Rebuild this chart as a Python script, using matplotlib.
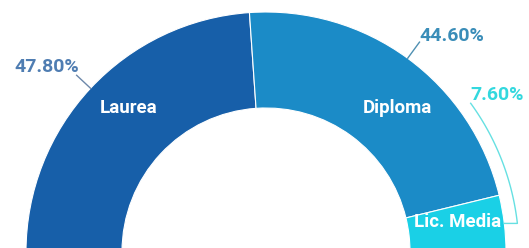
import numpy as np
import matplotlib
matplotlib.use("Agg")
import matplotlib.pyplot as plt

# ---- data ----
categories = ["Laurea", "Diploma", "Lic. Media"]
values = [47.80, 44.60, 7.60]
pct_labels = ["47.80%", "44.60%", "7.60%"]

# ---- style ----
colors = ["#175fa9", "#1b8bc7", "#1ad0e6"]
pct_colors = ["#4f7db2", "#3a8db8", "#33d8de"]
line_colors = ["#6d88aa", "#4f90b2", "#66e0e2"]

W, H = 529, 248
fig = plt.figure(figsize=(W / 100, H / 100), dpi=100)
ax = fig.add_axes([0, 0, 1, 1])

cx, cy = 266, H - 252
R, ring = 240, 96
frac = [v / 200.0 for v in values]
wedges, _ = ax.pie(frac, normalize=False, startangle=180, counterclock=False,
                   colors=colors, radius=R, center=(cx, cy),
                   wedgeprops=dict(width=ring, edgecolor="white", linewidth=0.8))
ax.set_xlim(0, W)
ax.set_ylim(0, H)
ax.set_aspect("equal")
ax.axis("off")

def pol(a, r):
    t = np.deg2rad(a)
    return cx + r * np.cos(t), cy + r * np.sin(t)

# inner labels (angle, radius)
inner_pos = [(133.6, 199), (47.5, 195), (8.9, 194)]
for name, (a, r) in zip(categories, inner_pos):
    x, y = pol(a, r)
    ax.text(x, y, name, color="white", fontsize=13.5, fontweight="bold",
            family=["Roboto", "DejaVu Sans"], ha="center", va="center")

mids = [w.theta1 * 0.5 + w.theta2 * 0.5 for w in wedges]
pfont = dict(fontsize=14, fontweight="bold", family=["Roboto", "DejaVu Sans"])

# Laurea leader
m = mids[0]
x0, y0 = pol(m, R)
x1, y1 = pol(m, R + 19)
ax.plot([x0, x1], [y0, y1], color=line_colors[0], lw=1)
ax.text(x1 + 3, y1 - 1, pct_labels[0], color=pct_colors[0], ha="right", va="bottom", **pfont)

# Diploma leader
m = mids[1]
x0, y0 = pol(m, R)
x1, y1 = pol(m, R + 20)
ax.plot([x0, x1], [y0, y1], color=line_colors[1], lw=1)
ax.text(x1, y1 - 3, pct_labels[1], color=pct_colors[1], ha="left", va="bottom", **pfont)

# Lic. Media bracket leader
m = mids[2]
x0, y0 = pol(m, R)
rr = 253
ang0 = np.rad2deg(np.arcsin((y0 - cy) / rr))
angs = np.linspace(ang0, 36.0, 60)
ax_, ay_ = pol(angs, rr)
xs = np.concatenate([[x0], ax_])
ys = np.concatenate([[y0], ay_])
ax.plot(xs, ys, color=line_colors[2], lw=1)
ax.text(ax_[-1], ay_[-1] - 1, pct_labels[2], color=pct_colors[2], ha="left", va="bottom", **pfont)

fig.savefig("out.png", dpi=100, facecolor="white")
